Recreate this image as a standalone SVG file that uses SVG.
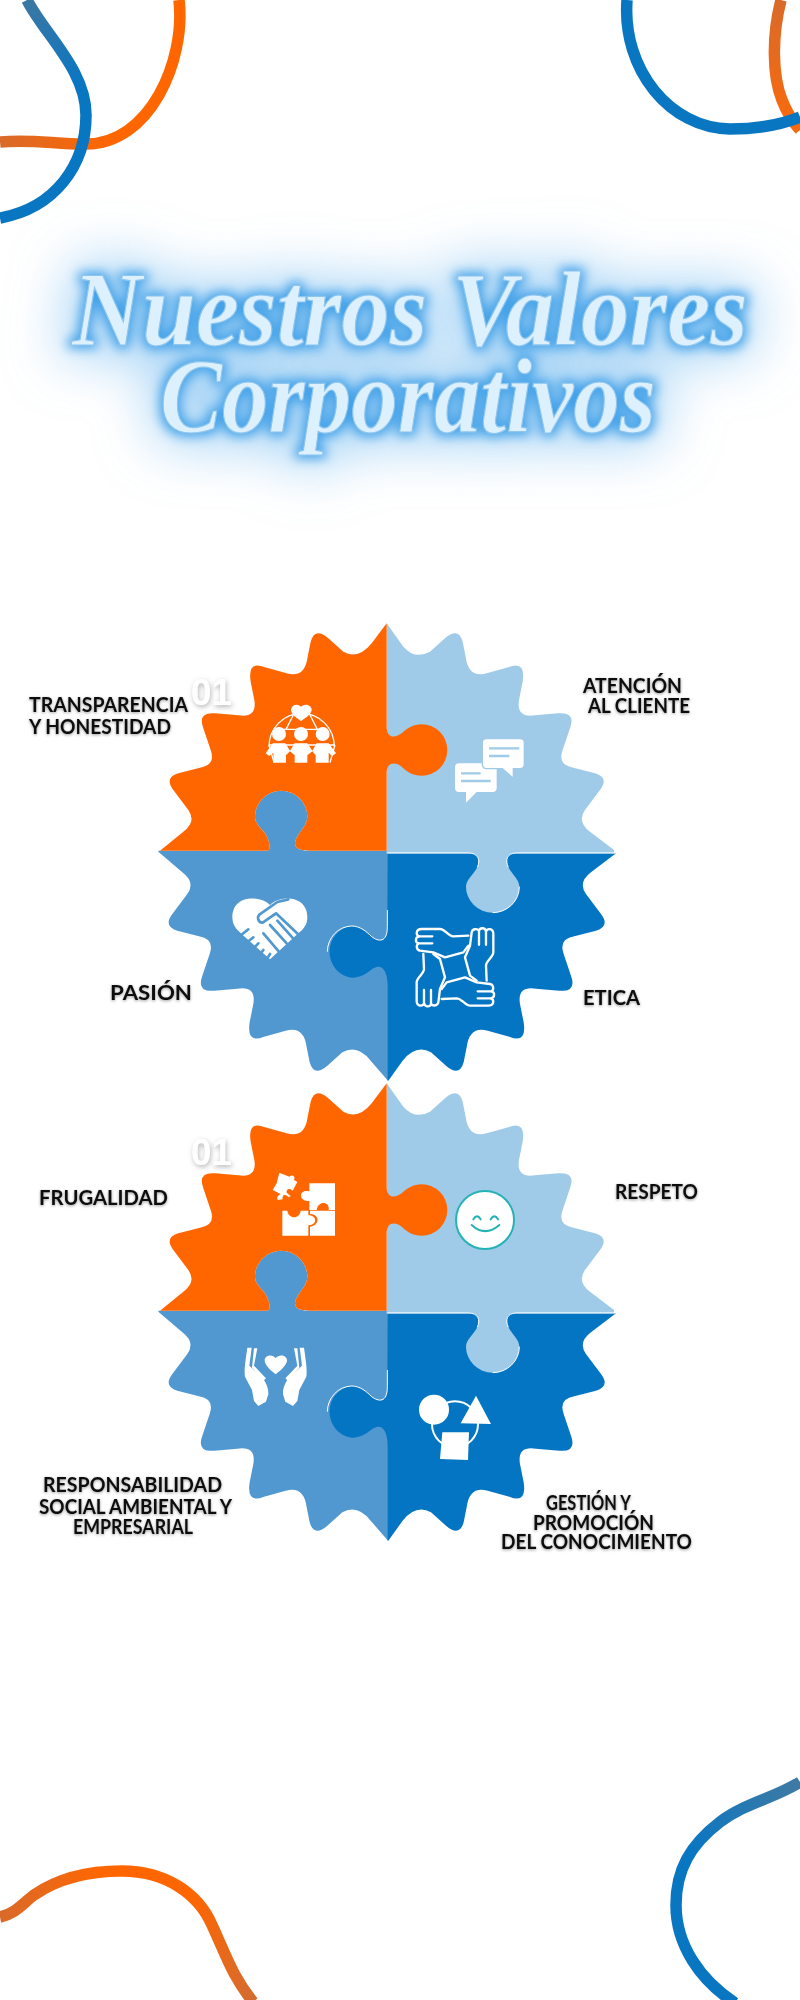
<svg xmlns="http://www.w3.org/2000/svg" width="800" height="2000" viewBox="0 0 800 2000">
<style>
.sw{fill:none;stroke-width:11.5;stroke-linecap:butt}
.lab{font-family:Lato,"Liberation Sans",Arial,sans-serif;font-weight:700;font-size:20.5px;fill:#0d0d0d;filter:url(#ts)}
.num{font-family:"Liberation Sans",Arial,sans-serif;font-weight:700;font-size:37px;fill:#fff;filter:url(#ns)}
.ttl{font-family:"Liberation Serif","Times New Roman",serif;font-style:italic;font-weight:700;font-size:106px;fill:#DDF0FE;stroke:#8FC6EE;stroke-width:1.2}
.ol{fill:none;stroke:#fff;stroke-width:7;stroke-linecap:round;stroke-linejoin:round}
.hair{fill:none;stroke:#fff;stroke-width:3}
</style>
<defs>
<linearGradient id="gb1" gradientUnits="userSpaceOnUse" x1="28" y1="0" x2="86" y2="80"><stop offset="0" stop-color="#3B77A3"/><stop offset="1" stop-color="#0976C2"/></linearGradient>
<linearGradient id="go1" gradientUnits="userSpaceOnUse" x1="0" y1="142" x2="110" y2="142"><stop offset="0" stop-color="#D96A2A"/><stop offset="1" stop-color="#FF6600"/></linearGradient>
<linearGradient id="go2" gradientUnits="userSpaceOnUse" x1="776" y1="0" x2="790" y2="110"><stop offset="0" stop-color="#D96A2A"/><stop offset="1" stop-color="#F56A10"/></linearGradient>
<linearGradient id="go3" gradientUnits="userSpaceOnUse" x1="0" y1="1917" x2="253" y2="2000"><stop offset="0" stop-color="#D96A2A"/><stop offset=".3" stop-color="#FF6600"/><stop offset=".65" stop-color="#FF6600"/><stop offset="1" stop-color="#D46C30"/></linearGradient>
<linearGradient id="gb2" gradientUnits="userSpaceOnUse" x1="800" y1="1782" x2="690" y2="1850"><stop offset="0" stop-color="#407AA3"/><stop offset="1" stop-color="#0976C2"/></linearGradient>
<filter id="ts" x="-10%" y="-40%" width="120%" height="190%"><feDropShadow dx="0" dy="1" stdDeviation="1.6" flood-color="#000" flood-opacity=".4"/></filter>
<filter id="ns" x="-30%" y="-30%" width="160%" height="170%"><feDropShadow dx="1" dy="2" stdDeviation="2.5" flood-color="#777" flood-opacity=".55"/></filter>
<filter id="glow" filterUnits="userSpaceOnUse" x="0" y="150" width="800" height="400" color-interpolation-filters="sRGB">
<feMorphology in="SourceAlpha" operator="dilate" radius="3" result="d1"/>
<feGaussianBlur in="d1" stdDeviation="6" result="b1"/>
<feFlood flood-color="#3E9FE8" flood-opacity=".95"/><feComposite in2="b1" operator="in" result="c1"/>
<feMorphology in="SourceAlpha" operator="dilate" radius="10" result="d2"/>
<feGaussianBlur in="d2" stdDeviation="28" result="b2"/>
<feFlood flood-color="#63B2EE" flood-opacity=".6"/><feComposite in2="b2" operator="in" result="c2"/>
<feMerge><feMergeNode in="c2"/><feMergeNode in="c1"/><feMergeNode in="SourceGraphic"/></feMerge>
</filter>
<g id="gear">
<path id="p-mid" fill="#5098CF" d="M55 722 L380 722 C395 722,390 695,375 670 C360 650,345 640,345 620 A78 77 0 0 1 502 620 C502 650,465 675,465 700 C465 720,490 722,510 722 L744 722 L744 1412 L692 1352 Q652 1302 607 1327 L562 1367 Q522 1402 509 1357 L500 1312 Q492 1247 437 1262 L372 1280 Q319 1302 329 1237 L340 1182 Q349 1127 292 1136 L222 1142 Q169 1147 187 1097 L209 1032 Q225 987 177 979 L112 962 Q69 949 97 912 L142 852 Q167 817 127 787 L55 725 Z"/>
<path id="p-dark" fill="#0475C3" d="M743 730 L1428 730 L1353 787 Q1313 817 1338 852 L1383 912 Q1411 949 1368 962 L1303 979 Q1255 987 1271 1032 L1293 1097 Q1311 1147 1258 1142 L1188 1136 Q1131 1127 1140 1182 L1151 1237 Q1161 1302 1108 1280 L1043 1262 Q988 1247 980 1312 L971 1357 Q958 1402 918 1367 L873 1327 Q828 1302 788 1352 L745 1412 L743 1412 L743 1130 C743 1080,725 1060,700 1075 C680 1090,665 1103,635 1103 A75 78 0 0 1 635 948 C660 948,680 965,695 980 C715 995,742 1000,742 950 Z"/>
<path class="hair" d="M562 1025 A75 78 0 0 1 635 948 C660 948,680 965,695 980 C715 995,742 1000,742 950 L742 900"/>
<path id="p-light" fill="#9FCAE8" d="M740 40 L790 110 Q825 150 870 125 L915 85 Q955 50 968 95 L977 140 Q985 205 1040 190 L1105 172 Q1158 150 1148 215 L1137 270 Q1128 325 1185 316 L1255 310 Q1308 305 1290 355 L1268 420 Q1252 465 1300 473 L1365 490 Q1408 503 1380 540 L1335 600 Q1310 635 1350 665 L1422 720 L1422 728 L1130 728 C1100 728,1095 750,1105 772 C1118 795,1138 810,1138 830 A80 78 0 0 1 978 830 C978 810,1000 795,1012 772 C1022 750,1015 728,985 728 L740 728 Z"/>
<path class="hair" d="M1138 830 A80 78 0 0 1 1058 908 M740 729 H985 C1015 729,1022 750,1012 772 M1105 772 C1095 750,1100 729,1130 729 H1425"/>
<path id="p-orange" fill="#FF6600" d="M740 40 L695 100 Q655 150 610 125 L565 85 Q525 50 512 95 L503 140 Q495 205 440 190 L375 172 Q322 150 332 215 L343 270 Q352 325 295 316 L225 310 Q172 305 190 355 L212 420 Q228 465 180 473 L115 490 Q72 503 100 540 L145 600 Q170 635 130 665 L60 722 L380 722 C395 722,390 695,375 670 C360 650,345 640,345 620 A78 77 0 0 1 502 620 C502 650,465 675,465 700 C465 720,490 722,510 722 L740 722 L740 490 C740 455,765 455,785 470 C800 485,820 497,845 497 A77 77 0 0 0 845 343 C820 343,800 355,785 370 C765 385,740 385,740 350 Z"/>
</g>
</defs>

<g id="swirls">
<path class="sw" stroke="url(#go1)" d="M179 0 C186 60,150 145,85 144 C55 144,30 139,0 142"/>
<path class="sw" stroke="url(#gb1)" d="M27 0 C45 35,86 70,86 115 C86 165,55 208,0 218"/>
<path class="sw" stroke="url(#go2)" d="M781 0 C772 35,772 75,782 100 C787 113,793 122,800 130"/>
<path class="sw" stroke="#0976C2" d="M627 0 C622 70,670 128,730 129 C757 129,780 125,800 117"/>
<path class="sw" stroke="url(#go3)" d="M0 1917 C15 1914,22 1904,34 1895 C60 1877,90 1871,122 1871 C165 1871,198 1893,212 1925 C228 1960,232 1975,253 2002"/>
<path class="sw" stroke="url(#gb2)" d="M800 1782 C775 1798,745 1803,720 1822 C690 1845,676 1870,676 1905 C676 1945,700 1980,735 2003"/>
</g>

<g id="title" filter="url(#glow)">
<text class="ttl" x="72" y="345" textLength="676" lengthAdjust="spacingAndGlyphs">Nuestros Valores</text>
<text class="ttl" x="160" y="432" textLength="496" lengthAdjust="spacingAndGlyphs">Corporativos</text>
</g>

<g id="gear-1" transform="translate(140,610) scale(.33333)"><use href="#gear"/></g>
<g id="gear-2" transform="translate(140,1070) scale(.33333)"><use href="#gear"/></g>

<g id="node-transparencia">
<text class="num" x="191" y="705" textLength="41" lengthAdjust="spacingAndGlyphs">01</text>
<text class="lab" x="29" y="712" textLength="159" lengthAdjust="spacingAndGlyphs">TRANSPARENCIA</text>
<text class="lab" x="29" y="734" textLength="142" lengthAdjust="spacingAndGlyphs">Y HONESTIDAD</text>
<g transform="translate(250,690) scale(.33333)">
<path fill="#fff" d="M153 93 C135 82,122 70,123 58 C125 42,145 40,153 50 C161 40,183 42,185 58 C186 70,171 82,153 93 Z"/>
<g fill="none" stroke="#fff" stroke-width="4"><path d="M57 170 A98 100 0 0 1 253 170"/><path d="M80 118 H230 M57 165 H255 M130 75 L108 118 M180 75 L202 118 M57 165 L72 218 M255 165 L240 218"/></g>
<circle cx="87" cy="132" r="21" fill="#fff"/><circle cx="153" cy="132" r="21" fill="#fff"/><circle cx="218" cy="132" r="21" fill="#fff"/>
<path fill="#fff" d="M47 190 L68 160 H106 L120 182 L134 160 H172 L187 182 L200 160 H236 L258 190 L246 198 L236 188 V218 H197 V196 L187 184 L172 196 V218 H134 V196 L120 184 L108 196 V218 H70 V188 L58 198 Z"/>
</g>
</g>

<g id="node-atencion">
<text class="lab" x="583" y="693" textLength="99" lengthAdjust="spacingAndGlyphs">ATENCIÓN</text>
<text class="lab" x="588" y="713" textLength="102" lengthAdjust="spacingAndGlyphs">AL CLIENTE</text>
<g transform="translate(250,690) scale(.33333)">
<path fill="#fff" d="M627 220 H728 Q740 220,740 232 V294 Q740 306,728 306 H680 L648 338 V306 H627 Q615 306,615 294 V232 Q615 220,627 220 Z"/>
<path d="M633 250 H692 M633 273 H722" stroke="#9FCAE8" stroke-width="7" fill="none"/>
<path fill="#fff" stroke="#9FCAE8" stroke-width="4" d="M710 146 H810 Q823 146,823 158 V223 Q823 236,810 236 H790 V265 L757 236 H710 Q697 236,697 223 V158 Q697 146,710 146 Z"/>
<path d="M717 175 H808 M717 198 H778" stroke="#9FCAE8" stroke-width="7" fill="none"/>
</g>
</g>

<g id="node-pasion">
<text class="lab" x="110" y="1000" textLength="82" lengthAdjust="spacingAndGlyphs">PASIÓN</text>
<g transform="translate(220,880) scale(.33333)">
<path fill="#fff" d="M150 75 C125 48,38 40,37 112 C37 138,52 150,68 165 L150 238 L235 160 C250 148,262 135,262 112 C262 45,180 45,150 75 Z"/>
<g fill="none" stroke="#5098CF" stroke-width="8" stroke-linecap="round" stroke-linejoin="round">
<path d="M240 168 L168 100 L128 128 C115 128,110 112,118 104 L172 66 L205 58"/>
<path d="M200 190 L150 135 M222 178 L172 122 M176 214 L130 160"/>
<path d="M60 168 L85 148 M78 190 L100 172 M98 208 L115 190 M118 226 L130 210 M140 238 L150 222"/>
</g>
</g>
</g>

<g id="node-etica">
<text class="lab" x="583" y="1005" textLength="57" lengthAdjust="spacingAndGlyphs">ETICA</text>
<g transform="translate(220,880) scale(.33333)">
<g transform="translate(705,262)"><path class="ol" d="M40 -95 L-5 -93 C-20 -93,-30 -115,-45 -115 L-100 -115 C-118 -115,-118 -97,-108 -93 C-120 -90,-120 -75,-110 -72 C-118 -65,-115 -52,-105 -50 L-65 -45 L-30 -30 L25 -45 L40 -65"/><path class="ol" d="M-108 -93 H-68 M-110 -72 H-68"/></g>
<g transform="translate(705,262) rotate(90)"><path class="ol" d="M40 -95 L-5 -93 C-20 -93,-30 -115,-45 -115 L-100 -115 C-118 -115,-118 -97,-108 -93 C-120 -90,-120 -75,-110 -72 C-118 -65,-115 -52,-105 -50 L-65 -45 L-30 -30 L25 -45 L40 -65"/><path class="ol" d="M-108 -93 H-68 M-110 -72 H-68"/></g>
<g transform="translate(705,262) rotate(180)"><path class="ol" d="M40 -95 L-5 -93 C-20 -93,-30 -115,-45 -115 L-100 -115 C-118 -115,-118 -97,-108 -93 C-120 -90,-120 -75,-110 -72 C-118 -65,-115 -52,-105 -50 L-65 -45 L-30 -30 L25 -45 L40 -65"/><path class="ol" d="M-108 -93 H-68 M-110 -72 H-68"/></g>
<g transform="translate(705,262) rotate(270)"><path class="ol" d="M40 -95 L-5 -93 C-20 -93,-30 -115,-45 -115 L-100 -115 C-118 -115,-118 -97,-108 -93 C-120 -90,-120 -75,-110 -72 C-118 -65,-115 -52,-105 -50 L-65 -45 L-30 -30 L25 -45 L40 -65"/><path class="ol" d="M-108 -93 H-68 M-110 -72 H-68"/></g>
</g>
</g>

<g id="node-frugalidad">
<text class="num" x="191" y="1165" textLength="41" lengthAdjust="spacingAndGlyphs">01</text>
<text class="lab" x="39" y="1205" textLength="129" lengthAdjust="spacingAndGlyphs">FRUGALIDAD</text>
<g transform="translate(250,1160) scale(.33333)">
<path fill="#fff" d="M88 38 L118 50 C125 42,138 48,132 60 L142 66 L128 92 C118 82,108 88,110 98 L122 108 L116 112 C105 100,95 105,98 118 L84 120 C78 115,84 105,92 102 L68 90 L80 70 Z"/>
<path fill="#fff" d="M178 70 H255 V150 H236 C240 125,205 120,200 150 H178 V122 C165 125,153 118,153 106 C153 96,165 90,178 94 Z"/>
<path fill="#fff" d="M97 152 H112 C115 178,150 178,152 152 H175 V166 C200 165,205 195,175 196 V227 H97 Z"/>
<path fill="#fff" d="M180 152 H255 V227 H180 V200 C212 195,208 162,180 162 Z"/>
</g>
</g>

<g id="node-respeto">
<text class="lab" x="615" y="1199" textLength="83" lengthAdjust="spacingAndGlyphs">RESPETO</text>
<g transform="translate(250,1160) scale(.33333)">
<circle cx="705" cy="180" r="87" fill="#fff" stroke="#25B2B6" stroke-width="6"/>
<path d="M670 178 Q681 160,692 178 M722 178 Q733 160,744 178 M665 195 Q705 232,748 195" fill="none" stroke="#25B2B6" stroke-width="6" stroke-linecap="round"/>
</g>
</g>

<g id="node-responsabilidad">
<text class="lab" x="43" y="1492" textLength="179" lengthAdjust="spacingAndGlyphs">RESPONSABILIDAD</text>
<text class="lab" x="39" y="1514" textLength="193" lengthAdjust="spacingAndGlyphs">SOCIAL AMBIENTAL Y</text>
<text class="lab" x="73" y="1534" textLength="120" lengthAdjust="spacingAndGlyphs">EMPRESARIAL</text>
<g transform="translate(230,1335) scale(.33333)">
<path fill="#fff" d="M137 118 C120 105,104 90,104 76 C104 60,128 56,137 70 C146 56,171 60,171 76 C171 90,154 105,137 118 Z"/>
<path fill="#fff" d="M52 38 H65 L58 92 L98 130 C108 142,116 160,115 178 L108 200 L85 213 L72 198 L66 165 L45 125 C42 110,45 85,52 38 Z M72 40 H82 L72 92 L108 130 L102 136 L66 98 Z"/>
<path fill="#fff" transform="translate(274,0) scale(-1,1)" d="M52 38 H65 L58 92 L98 130 C108 142,116 160,115 178 L108 200 L85 213 L72 198 L66 165 L45 125 C42 110,45 85,52 38 Z M72 40 H82 L72 92 L108 130 L102 136 L66 98 Z"/>
</g>
</g>

<g id="node-gestion">
<text class="lab" x="546" y="1510" textLength="85" lengthAdjust="spacingAndGlyphs">GESTIÓN Y</text>
<text class="lab" x="533" y="1530" textLength="121" lengthAdjust="spacingAndGlyphs">PROMOCIÓN</text>
<text class="lab" x="501" y="1549" textLength="191" lengthAdjust="spacingAndGlyphs">DEL CONOCIMIENTO</text>
<g transform="translate(230,1335) scale(.33333)">
<circle cx="675" cy="268" r="69" fill="none" stroke="#fff" stroke-width="6"/>
<circle cx="612" cy="224" r="45" fill="#fff"/>
<path fill="#fff" d="M738 182 L783 267 L692 265 Z"/>
<path fill="#fff" d="M637 292 H717 L714 375 L630 372 Z"/>
</g>
</g>
</svg>
